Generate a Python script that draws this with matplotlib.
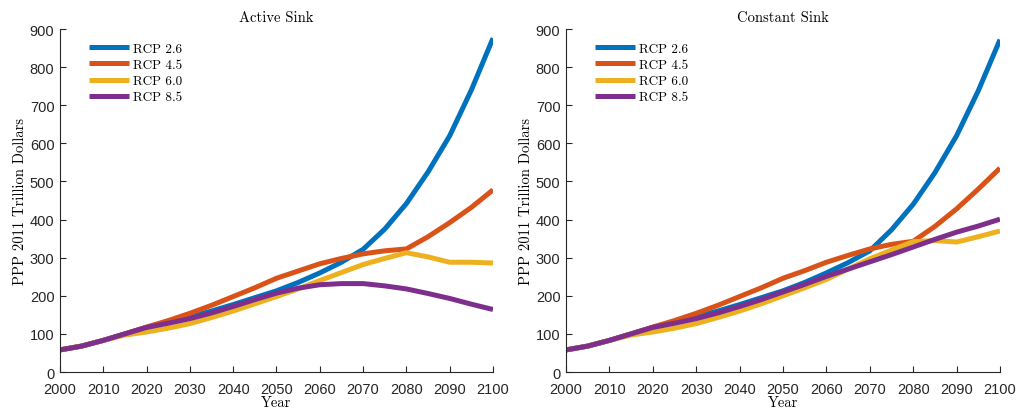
import numpy as np
import matplotlib
matplotlib.use('Agg')
import matplotlib.pyplot as plt

# Years at 5-year steps
years = np.arange(2000, 2101, 5)

scenarios = ['RCP 2.6', 'RCP 4.5', 'RCP 6.0', 'RCP 8.5']
colors = ['#0072BD', '#D95319', '#EDB120', '#7E2F8E']

# Active sink (PPP 2011 trillion dollars)
active_26 = [58, 68, 83, 100, 117, 130, 145, 160, 177, 195, 213, 235, 260, 288, 322, 375, 442, 525, 620, 740, 876]
active_45 = [58, 68, 83, 100, 118, 135, 154, 175, 198, 221, 246, 265, 284, 298, 310, 318, 323, 355, 392, 432, 478]
active_60 = [58, 68, 83, 97, 105, 115, 127, 143, 160, 179, 198, 218, 240, 261, 282, 298, 313, 302, 288, 288, 286]
active_85 = [58, 68, 83, 100, 117, 128, 140, 155, 172, 190, 207, 220, 229, 232, 232, 226, 218, 206, 193, 178, 164]

# Constant sink
const_26 = [58, 68, 83, 100, 117, 130, 145, 160, 177, 195, 213, 235, 260, 287, 318, 373, 440, 523, 620, 738, 872]
const_45 = [58, 68, 83, 100, 118, 135, 154, 175, 198, 221, 246, 266, 288, 306, 323, 335, 343, 382, 428, 480, 535]
const_60 = [58, 68, 83, 97, 105, 115, 127, 143, 160, 179, 200, 221, 243, 270, 297, 320, 342, 345, 341, 355, 370]
const_85 = [58, 68, 83, 100, 117, 128, 140, 155, 172, 190, 210, 230, 251, 270, 289, 308, 328, 348, 367, 383, 401]

panels = [
    ('Active Sink', [active_26, active_45, active_60, active_85]),
    ('Constant Sink', [const_26, const_45, const_60, const_85]),
]

serif = 'cmr10'
plt.rcParams['font.family'] = ['Liberation Sans', 'DejaVu Sans']
plt.rcParams['axes.formatter.use_mathtext'] = False

fig = plt.figure(figsize=(10.18, 4.14), dpi=100)
positions = [[0.0589, 0.099, 0.4254, 0.8285], [0.556, 0.099, 0.4263, 0.8285]]

for pos, (title, series) in zip(positions, panels):
    ax = fig.add_axes(pos)
    for vals, lab, c in zip(series, scenarios, colors):
        ax.plot(years, vals, color=c, lw=3.6, label=lab, solid_capstyle='butt')
    ax.set_xlim(2000, 2100)
    ax.set_ylim(0, 900)
    ax.set_xticks(np.arange(2000, 2101, 10))
    ax.set_yticks(np.arange(0, 901, 100))
    ax.spines['top'].set_visible(False)
    ax.spines['right'].set_visible(False)
    for s in ('left', 'bottom'):
        ax.spines[s].set_color('#262626')
        ax.spines[s].set_linewidth(0.8)
    ax.tick_params(direction='in', length=4, width=0.8, colors='#262626',
                   labelsize=10.5)
    ax.tick_params(axis='x', pad=7)
    ax.tick_params(axis='y', pad=4)
    ax.set_title(title, family=serif, fontsize=10.5, pad=6)
    ax.set_xlabel('Year', family=serif, fontsize=10.5, labelpad=0)
    ax.set_ylabel('PPP 2011 Trillion Dollars', family=serif, fontsize=10.5, labelpad=2)
    ax.legend(loc='upper left', bbox_to_anchor=(0.04, 0.995), frameon=False,
              handlelength=3.0, handletextpad=0.3, labelspacing=0.3,
              prop={'family': serif, 'size': 9.5})

fig.savefig('out.png', dpi=100)
